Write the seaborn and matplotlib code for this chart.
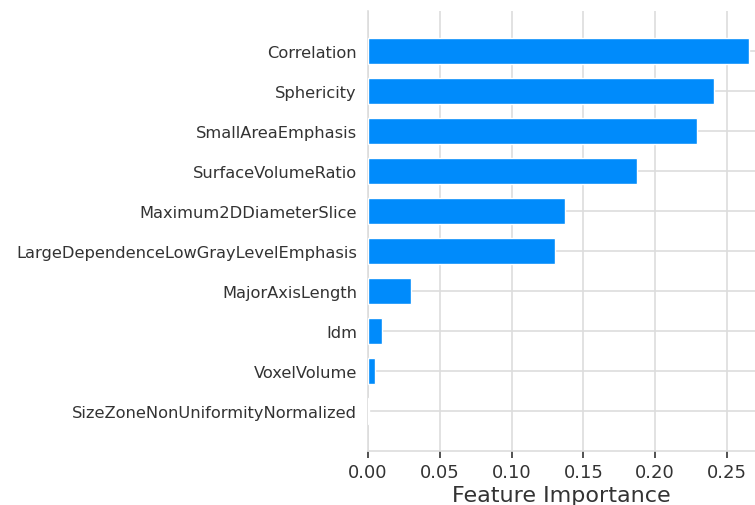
import numpy as np
import matplotlib
matplotlib.use("Agg")
import matplotlib.pyplot as plt
import pandas as pd
import seaborn as sns

features = ['Correlation', 'Sphericity', 'SmallAreaEmphasis', 'SurfaceVolumeRatio',
            'Maximum2DDiameterSlice', 'LargeDependenceLowGrayLevelEmphasis',
            'MajorAxisLength', 'Idm', 'VoxelVolume', 'SizeZoneNonUniformityNormalized']
importance = [0.265, 0.241, 0.229, 0.187, 0.137, 0.130, 0.030, 0.0098, 0.005, 0.0004]

df = pd.DataFrame({'feature': features, 'importance': importance})

sns.set_theme(style='whitegrid')
plt.rcParams['font.family'] = ['DejaVu Sans']

fig = plt.figure(figsize=(7.55, 5.06), dpi=100)
ax = fig.add_axes([368/755, 54/506, 387/755, 440/506])

sns.barplot(data=df, x='importance', y='feature', orient='h', color='#008bfb',
            saturation=1, width=0.66, ax=ax, zorder=3)

ax.set_xlim(0, 0.2695)
ax.set_ylim(10, -1)
ax.set_xticks([0, 0.05, 0.10, 0.15, 0.20, 0.25])
ax.set_xticklabels(['0.00', '0.05', '0.10', '0.15', '0.20', '0.25'])
ax.set_ylabel('')
ax.set_xlabel('Feature Importance', fontsize=16, color='#333333', labelpad=3)
ax.tick_params(axis='x', labelsize=13, colors='#333333', bottom=True, length=5, width=1.2)
ax.tick_params(axis='y', labelsize=11.7, colors='#333333', left=False, pad=2)
ax.grid(True, color='#dddddd', linewidth=1.2)
for s in ['top', 'right']:
    ax.spines[s].set_visible(False)
for s in ['left', 'bottom']:
    ax.spines[s].set_color('#dddddd')
    ax.spines[s].set_linewidth(1.2)

fig.savefig('out.png', dpi=100)
